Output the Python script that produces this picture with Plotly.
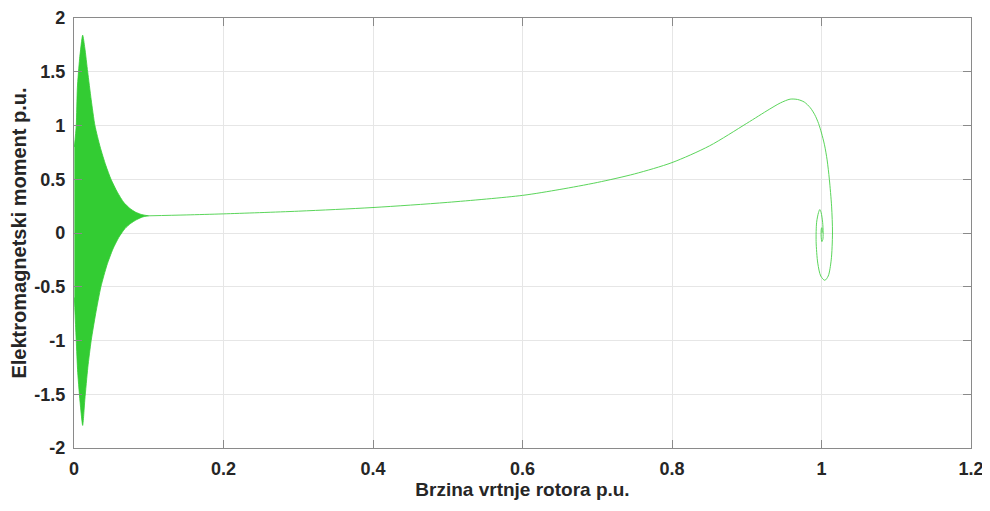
import plotly.graph_objects as go

# Envelope of the dense start-up oscillation (speed p.u., torque p.u.)
env_upper_x = [0.0005, 0.003, 0.0045, 0.0075, 0.0116, 0.0145, 0.0183, 0.023, 0.028, 0.035,
               0.0425, 0.0495, 0.058, 0.0665, 0.0745, 0.082, 0.089, 0.095, 0.1]
env_upper_y = [0.8, 1.0, 1.35, 1.62, 1.84, 1.72, 1.5, 1.24, 1.0, 0.8,
               0.63, 0.5, 0.38, 0.285, 0.23, 0.195, 0.175, 0.165, 0.16]
env_lower_x = [0.0005, 0.002, 0.003, 0.005, 0.0085, 0.0116, 0.0145, 0.0185, 0.023, 0.029,
               0.036, 0.044, 0.052, 0.06, 0.068, 0.076, 0.084, 0.092, 0.1]
env_lower_y = [-0.6, -0.85, -1.0, -1.3, -1.6, -1.79, -1.55, -1.25, -1.0, -0.75,
               -0.5, -0.3, -0.15, -0.04, 0.04, 0.09, 0.125, 0.15, 0.16]

# Torque-speed trajectory after the transient
speed = [0.1, 0.15, 0.2, 0.3, 0.4, 0.5, 0.6, 0.65, 0.7, 0.75, 0.8, 0.85, 0.9, 0.93,
         0.945, 0.958, 0.968, 0.977, 0.985, 0.991, 0.996, 1.0, 1.004, 1.0075, 1.0105,
         1.0135, 1.0147, 1.013, 1.009, 1.0044, 0.999, 0.995, 0.9928, 0.9935, 0.996, 0.9977,
         0.9995, 1.0015, 1.0022, 1.0018, 1.0005, 0.9995, 0.9998, 1.0006, 1.001, 1.0005]
torque = [0.16, 0.168, 0.178, 0.203, 0.237, 0.285, 0.35, 0.405, 0.47, 0.55, 0.655, 0.81,
          1.02, 1.15, 1.21, 1.245, 1.242, 1.218, 1.165, 1.1, 1.02, 0.93, 0.82, 0.68, 0.5,
          0.25, 0.0, -0.25, -0.4, -0.44, -0.4, -0.28, -0.08, 0.1, 0.19, 0.218, 0.19, 0.1,
          0.0, -0.06, -0.08, -0.03, 0.04, 0.05, 0.01, 0.0]

x_ticks = [0, 0.2, 0.4, 0.6, 0.8, 1.0, 1.2]
x_ticktext = ["0", "0.2", "0.4", "0.6", "0.8", "1", "1.2"]
y_ticks = [-2, -1.5, -1, -0.5, 0, 0.5, 1, 1.5, 2]
y_ticktext = ["-2", "-1.5", "-1", "-0.5", "0", "0.5", "1", "1.5", "2"]

GREEN = "#33cc33"
TXT = "#262626"
AX = "#8a8a8a"
FONT = "Liberation Sans, Arial, sans-serif"

fig = go.Figure()
fig.add_trace(go.Scatter(
    x=env_upper_x + env_lower_x[::-1],
    y=env_upper_y + env_lower_y[::-1],
    mode="lines", fill="toself", fillcolor=GREEN,
    line=dict(color=GREEN, width=0.8, shape="spline", smoothing=0.6),
    hoverinfo="skip", showlegend=False))
fig.add_trace(go.Scatter(
    x=speed, y=torque, mode="lines",
    line=dict(color=GREEN, width=1, shape="spline", smoothing=0.8),
    opacity=0.8, showlegend=False))

axis_common = dict(
    showgrid=True, gridcolor="#e6e6e6", gridwidth=1,
    showline=True, linecolor=AX, linewidth=1.3, mirror="ticks",
    ticks="inside", ticklen=8, tickcolor=AX, tickwidth=1.3,
    zeroline=False, automargin=False, ticklabelstandoff=4,
    ticklabeloverflow="allow",
    tickfont=dict(family=FONT, size=18, color=TXT, weight="bold"),
)

# page body has an 8px margin, so the figure is sized to fit the remaining window
fig.update_layout(
    width=982, height=495,
    margin=dict(l=66, r=19, t=10, b=55),
    plot_bgcolor="white", paper_bgcolor="white",
    xaxis=dict(range=[0, 1.2], tickvals=x_ticks, ticktext=x_ticktext,
               title=dict(text="Brzina vrtnje rotora p.u.", standoff=4,
                          font=dict(family=FONT, size=19, color=TXT, weight="bold")),
               **axis_common),
    yaxis=dict(range=[-2, 2], tickvals=y_ticks, ticktext=y_ticktext,
               title=dict(text="Elektromagnetski moment p.u.", standoff=8,
                          font=dict(family=FONT, size=20, color=TXT, weight="bold")),
               **axis_common),
)

fig.write_html("out.html")
